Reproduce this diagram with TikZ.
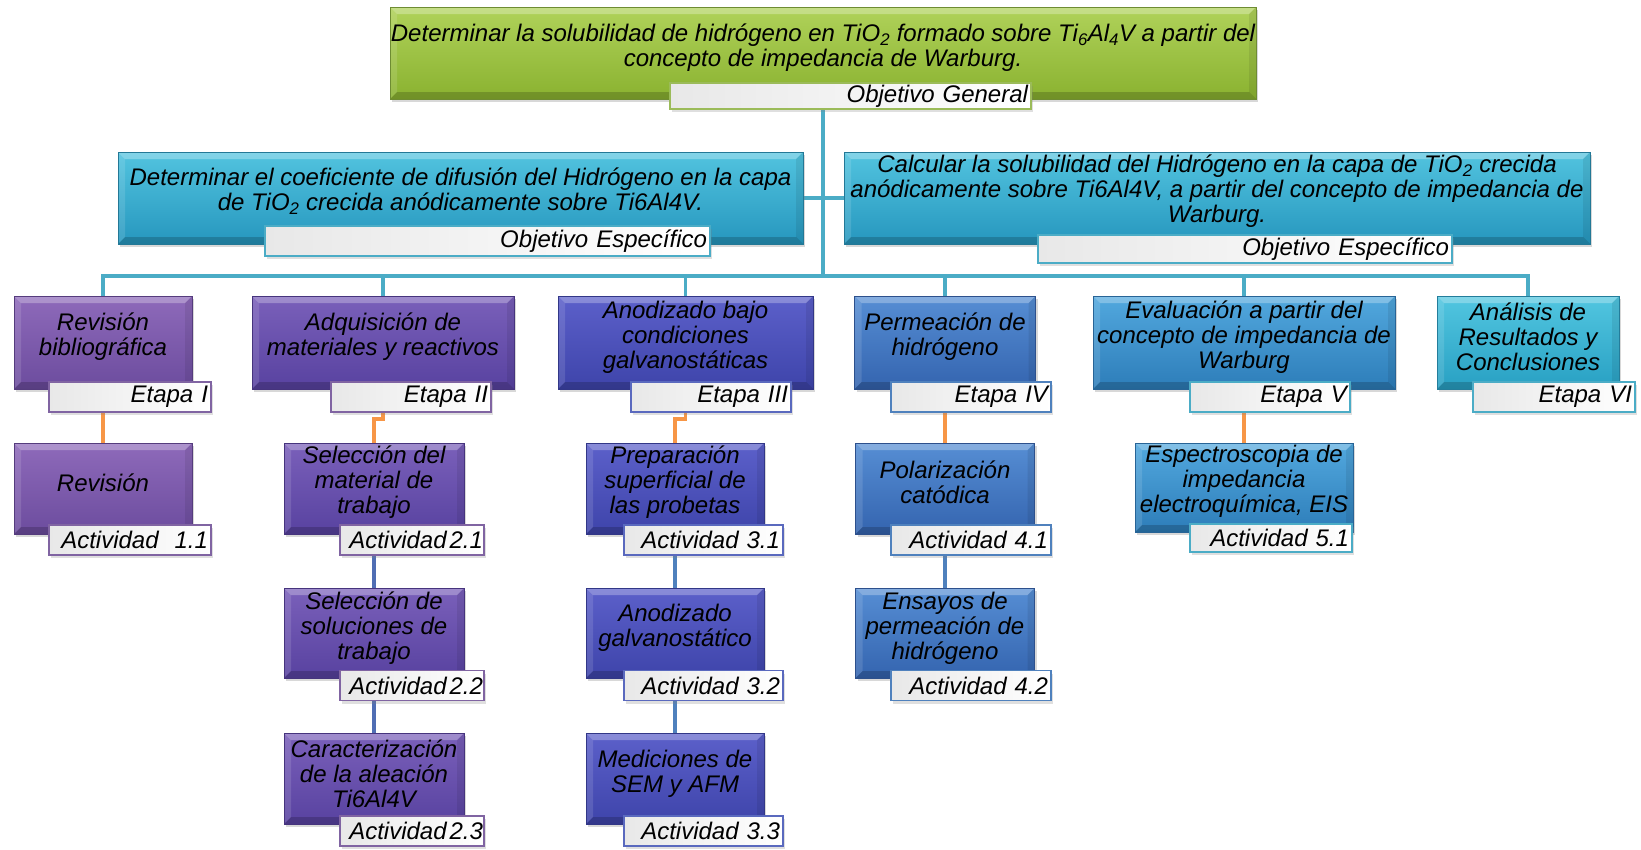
\documentclass[tikz,border=0pt]{standalone}
\usepackage{fontspec}
\setmainfont{Liberation Sans}
\usetikzlibrary{shadows,backgrounds}
\definecolor{gT}{RGB}{176,210,90}
\definecolor{gB}{RGB}{138,178,48}
\definecolor{gD}{RGB}{110,140,50}
\definecolor{gL}{RGB}{155,187,89}
\definecolor{cT}{RGB}{82,196,223}
\definecolor{cB}{RGB}{38,150,190}
\definecolor{cD}{RGB}{35,120,150}
\definecolor{cL}{RGB}{75,172,198}
\definecolor{pAT}{RGB}{142,106,186}
\definecolor{pAB}{RGB}{108,76,158}
\definecolor{pAD}{RGB}{85,60,125}
\definecolor{pAL}{RGB}{128,100,162}
\definecolor{pBT}{RGB}{122,96,186}
\definecolor{pBB}{RGB}{88,66,160}
\definecolor{pBD}{RGB}{70,52,125}
\definecolor{pBL}{RGB}{128,100,162}
\definecolor{pCT}{RGB}{92,96,202}
\definecolor{pCB}{RGB}{62,68,170}
\definecolor{pCD}{RGB}{50,55,135}
\definecolor{pCL}{RGB}{90,105,190}
\definecolor{pDT}{RGB}{86,142,212}
\definecolor{pDB}{RGB}{52,100,175}
\definecolor{pDD}{RGB}{45,80,140}
\definecolor{pDL}{RGB}{79,129,189}
\definecolor{pET}{RGB}{82,168,222}
\definecolor{pEB}{RGB}{45,125,185}
\definecolor{pED}{RGB}{40,100,150}
\definecolor{pEL}{RGB}{75,172,198}
\definecolor{pFT}{RGB}{82,198,224}
\definecolor{pFB}{RGB}{40,160,195}
\definecolor{pFD}{RGB}{35,125,155}
\definecolor{pFL}{RGB}{75,172,198}
\definecolor{tealC}{RGB}{75,172,198}
\definecolor{orangeC}{RGB}{247,150,70}
\definecolor{blueB}{RGB}{80,110,180}
\definecolor{blueC}{RGB}{79,129,189}
\tikzset{
  bx/.style={rectangle, draw=#1D, line width=0.6pt, top color=#1T, bottom color=#1B,
    inner sep=0pt, drop shadow={shadow xshift=2pt, shadow yshift=-3pt, opacity=0.3},
    path picture={
      \fill[white,opacity=0.28] (path picture bounding box.north west) -- (path picture bounding box.north east)
        -- ([xshift=-7pt,yshift=-7pt]path picture bounding box.north east) -- ([xshift=7pt,yshift=-7pt]path picture bounding box.north west) -- cycle;
      \fill[white,opacity=0.12] (path picture bounding box.north west) -- (path picture bounding box.south west)
        -- ([xshift=7pt,yshift=7pt]path picture bounding box.south west) -- ([xshift=7pt,yshift=-7pt]path picture bounding box.north west) -- cycle;
      \fill[black,opacity=0.08] (path picture bounding box.north east) -- (path picture bounding box.south east)
        -- ([xshift=-7pt,yshift=7pt]path picture bounding box.south east) -- ([xshift=-7pt,yshift=-7pt]path picture bounding box.north east) -- cycle;
      \fill[black,opacity=0.18] (path picture bounding box.south west) -- (path picture bounding box.south east)
        -- ([xshift=-7pt,yshift=7pt]path picture bounding box.south east) -- ([xshift=7pt,yshift=7pt]path picture bounding box.south west) -- cycle;
    }},
  txt/.style={align=center, inner sep=0pt, font=\itshape\fontsize{24}{25}\selectfont},
  lbl/.style={rectangle, draw=#1, line width=1.6pt, left color=black!9, right color=white,
    inner xsep=3pt, inner ysep=0pt, align=right, minimum height=30pt,
    font=\itshape\fontsize{24}{25}\selectfont,
    drop shadow={shadow xshift=2pt, shadow yshift=-3pt, opacity=0.25}},
  tealline/.style={draw=tealC, line width=3.5pt},
  orline/.style={draw=orangeC, line width=3.5pt},
  bline/.style={draw=#1, line width=3.5pt}
}
\begin{document}
\begin{tikzpicture}[x=1pt,y=-1pt]
\useasboundingbox (0,0) rectangle (1641,849);
% general objective
\node[bx=g, minimum width=866pt, minimum height=92pt] (og) at (823,53) {};
\node[txt] (ogt) at ([yshift=5pt]og.center) {Determinar la solubilidad de hidrógeno en TiO\textsubscript{2} formado sobre Ti\textsubscript{6}Al\textsubscript{4}V a partir del\\concepto de impedancia de Warburg.};
\node[lbl=gL, text width=355pt, minimum height=26pt] (ogl) at (850.5,96) {Objetivo General};
% specific objectives
\node[bx=c, minimum width=685pt, minimum height=92pt] (os1) at (460.5,198) {};
\node[txt] (os1t) at ([yshift=6.5pt]os1.center) {Determinar el coeficiente de difusión del Hidrógeno en la capa\\de TiO\textsubscript{2} crecida anódicamente sobre Ti6Al4V.};
\node[lbl=cL, text width=439pt] (os1l) at (487.5,241) {Objetivo Específico};
\node[bx=c, minimum width=746pt, minimum height=92pt] (os2) at (1217,198) {};
\node[txt] (os2t) at ([yshift=6.5pt]os2.center) {Calcular la solubilidad del Hidrógeno en la capa de TiO\textsubscript{2} crecida\\anódicamente sobre Ti6Al4V, a partir del concepto de impedancia de\\Warburg.};
\node[lbl=cL, text width=408pt, minimum height=28pt] (os2l) at (1245,249) {Objetivo Específico};
% stages
\node[bx=pA, minimum width=178pt, minimum height=93pt] (e1) at (103,342.5) {};
\node[txt] (e1t) at ([yshift=5.5pt]e1.center) {Revisión\\bibliográfica};
\node[lbl=pAL, text width=156pt] (e1l) at (130,397) {Etapa I};
\node[bx=pB, minimum width=262pt, minimum height=93pt] (e2) at (383,342.5) {};
\node[txt] (e2t) at ([yshift=5.5pt]e2.center) {Adquisición de\\materiales y reactivos};
\node[lbl=pBL, text width=154pt] (e2l) at (411,397) {Etapa II};
\node[bx=pC, minimum width=255pt, minimum height=93pt] (e3) at (685.5,342.5) {};
\node[txt] (e3t) at ([yshift=5.5pt]e3.center) {Anodizado bajo\\condiciones\\galvanostáticas};
\node[lbl=pCL, text width=154pt] (e3l) at (711,397) {Etapa III};
\node[bx=pD, minimum width=181pt, minimum height=93pt] (e4) at (945,342.5) {};
\node[txt] (e4t) at ([yshift=5.5pt]e4.center) {Permeación de\\hidrógeno};
\node[lbl=pDL, text width=154pt] (e4l) at (971,397) {Etapa IV};
\node[bx=pE, minimum width=302pt, minimum height=93pt] (e5) at (1244,342.5) {};
\node[txt] (e5t) at ([yshift=5.5pt]e5.center) {Evaluación a partir del\\concepto de impedancia de\\Warburg};
\node[lbl=pEL, text width=154pt] (e5l) at (1270,397) {Etapa V};
\node[bx=pF, minimum width=182pt, minimum height=93pt] (e6) at (1528,342.5) {};
\node[txt] (e6t) at ([yshift=5.5pt]e6.center) {Análisis de\\Resultados y\\Conclusiones};
\node[lbl=pFL, text width=156pt] (e6l) at (1554,397) {Etapa VI};
% activities column 1
\node[bx=pA, minimum width=178pt, minimum height=91pt] (a11) at (103,488.5) {};
\node[txt] (a11t) at ([yshift=6pt]a11.center) {Revisión};
\node[lbl=pAL, text width=156pt] (a11l) at (130,540) {Actividad\ \ 1.1};
% column 2
\node[bx=pB, minimum width=180pt, minimum height=91pt] (a21) at (374,488.5) {};
\node[txt] (a21t) at ([yshift=6pt]a21.center) {Selección del\\material de\\trabajo};
\node[lbl=pBL, text width=142pt, inner xsep=1pt] (a21l) at (412,540) {\mbox{Actividad\kern3pt2.1}};
\node[bx=pB, minimum width=180pt, minimum height=90pt] (a22) at (374,633) {};
\node[txt] (a22t) at ([yshift=5pt]a22.center) {Selección de\\soluciones de\\trabajo};
\node[lbl=pBL, text width=142pt, inner xsep=1pt] (a22l) at (412,685.5) {\mbox{Actividad\kern3pt2.2}};
\node[bx=pB, minimum width=180pt, minimum height=91pt] (a23) at (374,778.5) {};
\node[txt] (a23t) at ([yshift=5pt]a23.center) {Caracterización\\de la aleación\\Ti6Al4V};
\node[lbl=pBL, text width=142pt, inner xsep=1pt] (a23l) at (412,831) {\mbox{Actividad\kern3pt2.3}};
% column 3
\node[bx=pC, minimum width=178pt, minimum height=91pt] (a31) at (675,488.5) {};
\node[txt] (a31t) at ([yshift=6pt]a31.center) {Preparación\\superficial de\\las probetas};
\node[lbl=pCL, text width=153pt] (a31l) at (703.5,540) {Actividad 3.1};
\node[bx=pC, minimum width=178pt, minimum height=90pt] (a32) at (675,633) {};
\node[txt] (a32t) at ([yshift=5pt]a32.center) {Anodizado\\galvanostático};
\node[lbl=pCL, text width=153pt] (a32l) at (703.5,685.5) {Actividad 3.2};
\node[bx=pC, minimum width=178pt, minimum height=91pt] (a33) at (675,778.5) {};
\node[txt] (a33t) at ([yshift=5pt]a33.center) {Mediciones de\\SEM y AFM};
\node[lbl=pCL, text width=153pt] (a33l) at (703.5,831) {Actividad 3.3};
% column 4
\node[bx=pD, minimum width=179pt, minimum height=91pt] (a41) at (945,488.5) {};
\node[txt] (a41t) at ([yshift=6pt]a41.center) {Polarización\\catódica};
\node[lbl=pDL, text width=154pt] (a41l) at (971,540) {Actividad 4.1};
\node[bx=pD, minimum width=179pt, minimum height=90pt] (a42) at (945,633) {};
\node[txt] (a42t) at ([yshift=5pt]a42.center) {Ensayos de\\permeación de\\hidrógeno};
\node[lbl=pDL, text width=154pt] (a42l) at (971,685.5) {Actividad 4.2};
% column 5
\node[bx=pE, minimum width=218pt, minimum height=89pt] (a51) at (1244,487.5) {};
\node[txt] (a51t) at ([yshift=6pt]a51.center) {Espectroscopia de\\impedancia\\electroquímica, EIS};
\node[lbl=pEL, text width=156pt, minimum height=28pt] (a51l) at (1271,538) {Actividad 5.1};
% connectors
\begin{scope}[on background layer]
\fill[white] (0,0) rectangle (1641,849);
\coordinate (bus) at (823,276);
\coordinate (j2) at (383,419);
\coordinate (j3) at (685.5,419);
\draw[tealline] (og.south) -- (bus);
\draw[tealline] (os1.east) -- (os2.west);
\foreach \e in {e1,e2,e3,e4,e5,e6} \draw[tealline] (bus) -| (\e.north);
\draw[orline] (e1.south) -- (a11.north);
\draw[orline] (e2.south) -- (j2) -| (a21.north);
\draw[orline] (e3.south) -- (j3) -| (a31.north);
\draw[orline] (e4.south) -- (a41.north);
\draw[orline] (e5.south) -- (a51.north);
\draw[bline=blueB] (a21.south) -- (a22.north);
\draw[bline=blueB] (a22.south) -- (a23.north);
\draw[bline=blueC] (a31.south) -- (a32.north);
\draw[bline=blueC] (a32.south) -- (a33.north);
\draw[bline=blueC] (a41.south) -- (a42.north);
\end{scope}
\end{tikzpicture}
\end{document}
